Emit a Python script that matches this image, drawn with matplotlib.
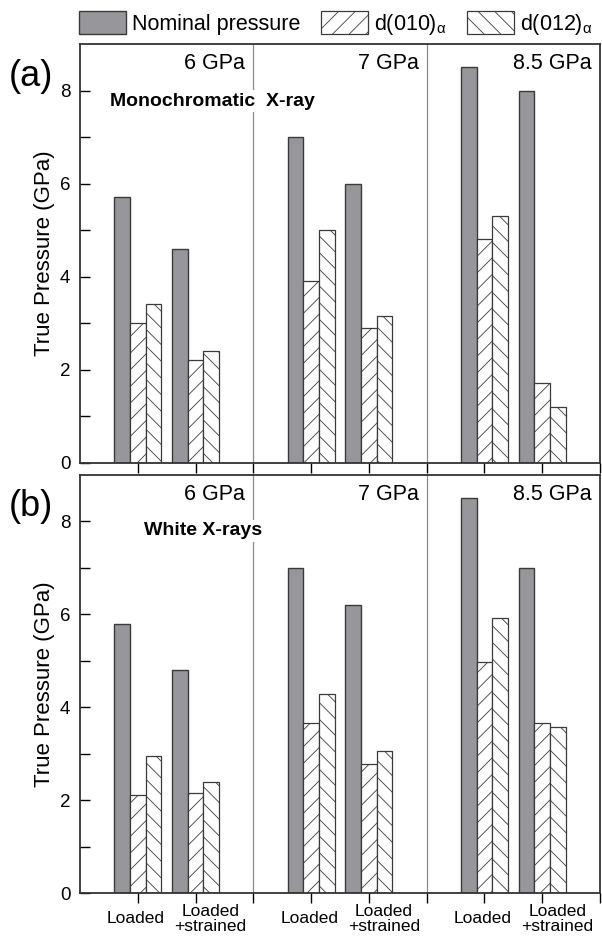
import numpy as np
import matplotlib
matplotlib.use("Agg")
import matplotlib.pyplot as plt
from matplotlib.patches import Patch

plt.rcParams['font.family'] = ['Liberation Sans', 'DejaVu Sans']
plt.rcParams['hatch.linewidth'] = 0.6
plt.rcParams['mathtext.fontset'] = 'custom'
plt.rcParams['mathtext.rm'] = 'Liberation Sans'
plt.rcParams['mathtext.it'] = 'Liberation Sans'

# group centres: Loaded / Loaded+strained for 6, 7, 8.5 GPa
groups = [1, 2, 4, 5, 7, 8]
pressures = ["6 GPa", "7 GPa", "8.5 GPa"]
series_names = ["Nominal pressure", "d(010)$_{\\alpha}$", "d(012)$_{\\alpha}$"]

# (a) monochromatic X-ray
mono_nominal = [5.7, 4.6, 7.0, 6.0, 8.5, 8.0]
mono_d010 = [3.0, 2.2, 3.9, 2.9, 4.8, 1.7]
mono_d012 = [3.4, 2.4, 5.0, 3.15, 5.3, 1.2]

# (b) white X-rays
white_nominal = [5.8, 4.8, 7.0, 6.2, 8.5, 7.0]
white_d010 = [2.12, 2.15, 3.65, 2.77, 4.98, 3.67]
white_d012 = [2.95, 2.4, 4.29, 3.05, 5.92, 3.58]

W = 0.27
gray = '#97979b'
edge = '#3a3a3a'

fig = plt.figure(figsize=(6.02, 9.41), dpi=100)
ax_a = fig.add_axes([80/602, 1-462.5/941, 520/602, 418.5/941])
ax_b = fig.add_axes([80/602, 1-893/941, 520/602, 418/941])


def draw_panel(ax, nominal, d010, d012, title, tx, ty, letter):
    x = np.array(groups, dtype=float)
    ax.bar(x - W, nominal, W, color=gray, edgecolor=edge, linewidth=1.0)
    ax.bar(x, d010, W, color='white', edgecolor=edge, linewidth=0.9, hatch='//')
    ax.bar(x + W, d012, W, color='white', edgecolor=edge, linewidth=0.9, hatch='\\\\')
    for s in [3, 6]:
        ax.axvline(s, color='#8a8a8a', linewidth=0.9, zorder=0.5)
    ax.set_xlim(0, 9)
    ax.set_ylim(0, 9)
    ax.set_yticks([0, 2, 4, 6, 8])
    ax.set_yticks([1, 3, 5, 7], minor=True)
    ax.set_xticks(range(1, 10))
    ax.set_xticklabels([])
    ax.tick_params(axis='y', which='both', direction='in', length=7, width=1, labelsize=13.5, pad=7)
    ax.tick_params(axis='x', direction='out', length=7, width=1)
    for sp in ax.spines.values():
        sp.set_linewidth(1.3)
        sp.set_color('#333333')
    ax.set_ylabel("True Pressure (GPa)", fontsize=16)
    ax.yaxis.set_label_coords(-0.048, 0.5)
    for i, p in enumerate(pressures):
        ax.text(2.86 + 3*i, 8.57, p, fontsize=15.5, ha='right', va='center')
    ax.text(tx, ty, title, fontsize=14, fontweight='bold', ha='left', va='center',
            bbox=dict(facecolor='white', edgecolor='none', pad=2))
    ax.text(-0.052, 0.9235, letter, transform=ax.transAxes, fontsize=26,
            ha='right', va='center')


draw_panel(ax_a, mono_nominal, mono_d010, mono_d012, "Monochromatic  X-ray", 0.52, 7.77, "(a)")
draw_panel(ax_b, white_nominal, white_d010, white_d012, "White X-rays", 1.1, 7.8, "(b)")

for g in [1, 4, 7]:
    ax_b.text(g - 0.03, -0.55, "Loaded", fontsize=12.5, ha='center', va='center')
    ax_b.text(g + 1.26, -0.55, "Loaded\n+strained", fontsize=12.5, ha='center', va='center',
              linespacing=1.0)

handles = [Patch(facecolor=gray, edgecolor=edge, linewidth=1.0),
           Patch(facecolor='white', edgecolor=edge, linewidth=0.9, hatch='//'),
           Patch(facecolor='white', edgecolor=edge, linewidth=0.9, hatch='\\\\')]
fig.legend(handles, series_names, loc='upper left', bbox_to_anchor=(79/602, 1 - 11/941),
           ncol=3, frameon=False, fontsize=15.5, handlelength=2.19, handleheight=1.25,
           handletextpad=0.28, columnspacing=0.95, borderaxespad=0, borderpad=0)

fig.savefig("out.png", dpi=100)
